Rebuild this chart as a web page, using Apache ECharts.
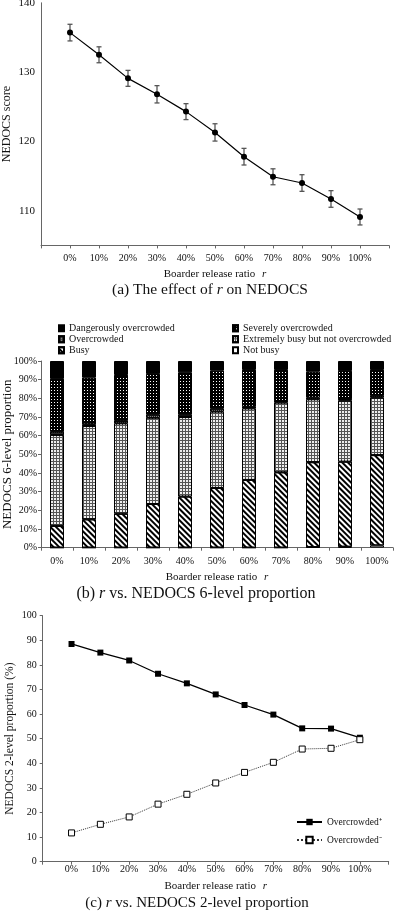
<!DOCTYPE html>
<html>
<head>
<meta charset="utf-8">
<script src="https://cdn.jsdelivr.net/npm/echarts@6/dist/echarts.min.js"></script>
<style>
  html, body { margin: 0; padding: 0; background: #fff; }
  #chart { width: 394px; height: 921px; }
</style>
</head>
<body>
<div id="chart"></div>
<script>
// r values (x axis)
const categories = ['0%', '10%', '20%', '30%', '40%', '50%', '60%', '70%', '80%', '90%', '100%'];

// (a) NEDOCS score, mean and error bar half-width
const scoreMean = [135.7, 132.5, 129.1, 126.8, 124.3, 121.3, 117.8, 114.9, 114.0, 111.7, 109.1];
const scoreErr = [1.2, 1.15, 1.15, 1.25, 1.15, 1.25, 1.2, 1.15, 1.2, 1.2, 1.15];

// (b) 6-level proportion (%), bottom to top
const notBusy = [0, 0, 0, 0, 0, 0, 0, 0, 0.3, 0.5, 1.2];
const busy = [11.7, 15.2, 18.2, 23.4, 27.4, 32.0, 36.3, 40.4, 45.5, 45.6, 48.4];
const extremelyBusy = [48.7, 50.0, 48.4, 46.2, 42.6, 40.9, 38.3, 37.3, 33.7, 32.7, 30.8];
const overcrowded = [1.7, 0.9, 1.4, 1.8, 1.4, 1.7, 0.9, 0.9, 0.9, 0.8, 1.0];
const severely = [28.3, 25.0, 24.5, 21.6, 22.5, 20.2, 19.7, 16.6, 13.9, 15.0, 13.8];
const dangerously = [9.6, 8.9, 7.5, 7.0, 6.1, 5.2, 4.8, 4.8, 5.7, 5.4, 4.8];

// (c) 2-level proportion (%)
const overPlus = [88.5, 85.0, 81.8, 76.4, 72.5, 68.0, 63.7, 59.8, 54.2, 54.1, 50.4];
const overMinus = [11.7, 15.2, 18.2, 23.4, 27.4, 32.0, 36.3, 40.4, 45.8, 46.1, 49.6];

const FONT = 'Liberation Serif';
const AXIS = '#666';
const TXT = '#111';

const chart = echarts.init(document.getElementById('chart'));

const rName = {
  n: { fontFamily: FONT, fontSize: 11, color: TXT },
  i: { fontFamily: FONT, fontSize: 11, fontStyle: 'italic', color: TXT }
};

// x axis for panels a and c: slots -1..11, points at 0..10
const pctAxis = (gridIndex, nameGap, labelMargin) => ({
  type: 'value', gridIndex, min: -1, max: 11, interval: 1,
  axisLine: { show: true, onZero: false, lineStyle: { color: AXIS } },
  axisTick: { show: true, length: 3, lineStyle: { color: AXIS } },
  splitLine: { show: false },
  axisLabel: {
    margin: labelMargin, fontFamily: FONT, fontSize: 10, color: TXT,
    formatter: v => (v >= 0 && v <= 10 ? categories[v] : '')
  },
  name: '{n|Boarder release ratio}  {i|r}',
  nameLocation: 'middle', nameGap, nameMoveOverlap: false,
  nameTextStyle: { rich: rName }
});

const legendText = { fontFamily: FONT, fontSize: 10, color: TXT, lineHeight: 11 };

const option = {
  animation: false,
  grid: [
    { left: 41, top: 2.8, width: 348, height: 242.6, outerBoundsMode: 'none' },
    { left: 41, top: 361, width: 352, height: 186.7, outerBoundsMode: 'none' },
    { left: 42.7, top: 615.7, width: 346, height: 246, outerBoundsMode: 'none' }
  ],
  xAxis: [
    pctAxis(0, 23, 8),
    {
      type: 'category', gridIndex: 1, data: categories,
      axisLine: { show: true, onZero: false, lineStyle: { color: AXIS } },
      axisTick: { show: true, length: 3, lineStyle: { color: AXIS } },
      axisLabel: { margin: 9, fontFamily: FONT, fontSize: 10, color: TXT },
      name: '{n|Boarder release ratio}  {i|r}',
      nameLocation: 'middle', nameGap: 23, nameMoveOverlap: false,
      nameTextStyle: { rich: rName }
    },
    pctAxis(2, 18, 3)
  ],
  yAxis: [
    {
      type: 'value', gridIndex: 0, min: 105, max: 140, interval: 5,
      axisLine: { show: true, onZero: false, lineStyle: { color: AXIS } },
      axisTick: { show: false },
      splitLine: { show: false },
      axisLabel: {
        margin: 6, fontFamily: FONT, fontSize: 11, color: TXT,
        formatter: v => (v % 10 === 0 ? v : '')
      },
      name: 'NEDOCS score', nameLocation: 'middle', nameGap: 28, nameRotate: 90, nameMoveOverlap: false,
      nameTextStyle: { fontFamily: FONT, fontSize: 12, color: TXT }
    },
    {
      type: 'value', gridIndex: 1, min: 0, max: 100, interval: 10,
      axisLine: { show: true, onZero: false, lineStyle: { color: AXIS } },
      axisTick: { show: true, length: 3, lineStyle: { color: AXIS } },
      splitLine: { show: false },
      axisLabel: { margin: 4, fontFamily: FONT, fontSize: 10, color: TXT, formatter: '{value}%' },
      name: 'NEDOCS 6-level proportion', nameLocation: 'middle', nameGap: 27, nameRotate: 90, nameMoveOverlap: false,
      nameTextStyle: { fontFamily: FONT, fontSize: 13, color: TXT }
    },
    {
      type: 'value', gridIndex: 2, min: 0, max: 100, interval: 10,
      axisLine: { show: true, onZero: false, lineStyle: { color: AXIS } },
      axisTick: { show: true, length: 3, lineStyle: { color: AXIS } },
      splitLine: { show: false },
      axisLabel: { margin: 6, fontFamily: FONT, fontSize: 10, color: TXT },
      name: 'NEDOCS 2-level proportion (%)', nameLocation: 'middle', nameGap: 27, nameRotate: 90, nameMoveOverlap: false,
      nameTextStyle: { fontFamily: FONT, fontSize: 11.5, color: TXT }
    }
  ],
  legend: [
    {
      orient: 'vertical', left: 58, top: 322.8, itemWidth: 5, itemHeight: 6, itemGap: 0,
      icon: 'rect', textStyle: legendText, padding: 0,
      data: ['Dangerously overcrowded', 'Overcrowded', 'Busy']
    },
    {
      orient: 'vertical', left: 232, top: 322.8, itemWidth: 5, itemHeight: 6, itemGap: 0,
      icon: 'rect', textStyle: legendText, padding: 0,
      data: ['Severely overcrowded', 'Extremely busy but not overcrowded', 'Not busy']
    },
    {
      orient: 'vertical', left: 296, top: 817, itemWidth: 25, itemHeight: 8, itemGap: 8,
      padding: 0,
      textStyle: { fontFamily: FONT, fontSize: 9.5, color: TXT, lineHeight: 10 },
      data: ['Overcrowded\u207A', 'Overcrowded\u207B']
    }
  ],
  series: [
    // (a)
    {
      type: 'custom', xAxisIndex: 0, yAxisIndex: 0, z: 1,
      data: scoreMean.map((m, i) => [i, m, scoreErr[i]]),
      encode: { x: 0, y: 1 },
      renderItem: (params, api) => {
        const x = api.value(0), m = api.value(1), e = api.value(2);
        const hi = api.coord([x, m + e]);
        const lo = api.coord([x, m - e]);
        const w = 2.5;
        const st = { stroke: '#555', lineWidth: 1.3 };
        return {
          type: 'group',
          children: [
            { type: 'line', shape: { x1: hi[0], y1: hi[1], x2: lo[0], y2: lo[1] }, style: st },
            { type: 'line', shape: { x1: hi[0] - w, y1: hi[1], x2: hi[0] + w, y2: hi[1] }, style: st },
            { type: 'line', shape: { x1: lo[0] - w, y1: lo[1], x2: lo[0] + w, y2: lo[1] }, style: st }
          ]
        };
      }
    },
    {
      type: 'line', xAxisIndex: 0, yAxisIndex: 0, z: 3,
      data: scoreMean.map((m, i) => [i, m]),
      symbol: 'circle', symbolSize: 6,
      lineStyle: { color: '#000', width: 1.2 },
      itemStyle: { color: '#000' }
    },
    // (b)
    {
      name: 'Not busy', type: 'bar', stack: 'lv', xAxisIndex: 1, yAxisIndex: 1, barWidth: 14,
      data: notBusy,
      itemStyle: { color: '#fff', borderColor: '#000', borderWidth: 1 }
    },
    {
      name: 'Busy', type: 'bar', stack: 'lv', xAxisIndex: 1, yAxisIndex: 1, barWidth: 14,
      data: busy,
      itemStyle: {
        color: '#fff', borderColor: '#000', borderWidth: 1,
        decal: { symbol: 'rect', symbolSize: 1, dashArrayX: [[1, 0]], dashArrayY: [1.6, 1.8], rotation: Math.PI / 4, color: '#000' }
      }
    },
    {
      name: 'Extremely busy but not overcrowded', type: 'bar', stack: 'lv', xAxisIndex: 1, yAxisIndex: 1, barWidth: 14,
      data: extremelyBusy,
      itemStyle: {
        color: '#555', borderColor: '#000', borderWidth: 1,
        decal: { symbol: 'rect', symbolSize: 1, dashArrayX: [2, 1], dashArrayY: [2, 1], color: '#eee' }
      }
    },
    {
      name: 'Overcrowded', type: 'bar', stack: 'lv', xAxisIndex: 1, yAxisIndex: 1, barWidth: 14,
      data: overcrowded,
      itemStyle: {
        color: '#333', borderColor: '#000', borderWidth: 1,
        decal: { symbol: 'rect', symbolSize: 1, dashArrayX: [1, 1], dashArrayY: [1, 1], color: '#aaa' }
      }
    },
    {
      name: 'Severely overcrowded', type: 'bar', stack: 'lv', xAxisIndex: 1, yAxisIndex: 1, barWidth: 14,
      data: severely,
      itemStyle: {
        color: '#000', borderColor: '#000', borderWidth: 1,
        decal: { symbol: 'rect', symbolSize: 1, dashArrayX: [1, 2], dashArrayY: [1, 2], color: '#fff' }
      }
    },
    {
      name: 'Dangerously overcrowded', type: 'bar', stack: 'lv', xAxisIndex: 1, yAxisIndex: 1, barWidth: 14,
      data: dangerously,
      itemStyle: { color: '#000', borderColor: '#000', borderWidth: 1 }
    },
    // (c)
    {
      name: 'Overcrowded\u207A', type: 'line', xAxisIndex: 2, yAxisIndex: 2,
      data: overPlus.map((v, i) => [i, v]),
      symbol: 'rect', symbolSize: 6,
      lineStyle: { color: '#000', width: 1.3 },
      itemStyle: { color: '#000' }
    },
    {
      name: 'Overcrowded\u207B', type: 'line', xAxisIndex: 2, yAxisIndex: 2,
      data: overMinus.map((v, i) => [i, v]),
      symbol: 'rect', symbolSize: 6,
      lineStyle: { color: '#333', width: 1, type: 'dotted' },
      itemStyle: { color: '#fff', borderColor: '#000', borderWidth: 1 }
    }
  ],
  graphic: [
    {
      type: 'text', x: 210, y: 290,
      style: {
        text: '(a) The effect of {i|r} on NEDOCS',
        fontFamily: FONT, fontSize: 15.5, fill: TXT, align: 'center', verticalAlign: 'middle',
        rich: { i: { fontFamily: FONT, fontSize: 15.5, fontStyle: 'italic', fill: TXT } }
      }
    },
    {
      type: 'text', x: 196, y: 594,
      style: {
        text: '(b) {i|r} vs. NEDOCS 6-level proportion',
        fontFamily: FONT, fontSize: 16, fill: TXT, align: 'center', verticalAlign: 'middle',
        rich: { i: { fontFamily: FONT, fontSize: 16, fontStyle: 'italic', fill: TXT } }
      }
    },
    {
      type: 'text', x: 197, y: 903,
      style: {
        text: '(c) {i|r} vs. NEDOCS 2-level proportion',
        fontFamily: FONT, fontSize: 15, fill: TXT, align: 'center', verticalAlign: 'middle',
        rich: { i: { fontFamily: FONT, fontSize: 15, fontStyle: 'italic', fill: TXT } }
      }
    }
  ]
};

chart.setOption(option);
</script>
</body>
</html>
